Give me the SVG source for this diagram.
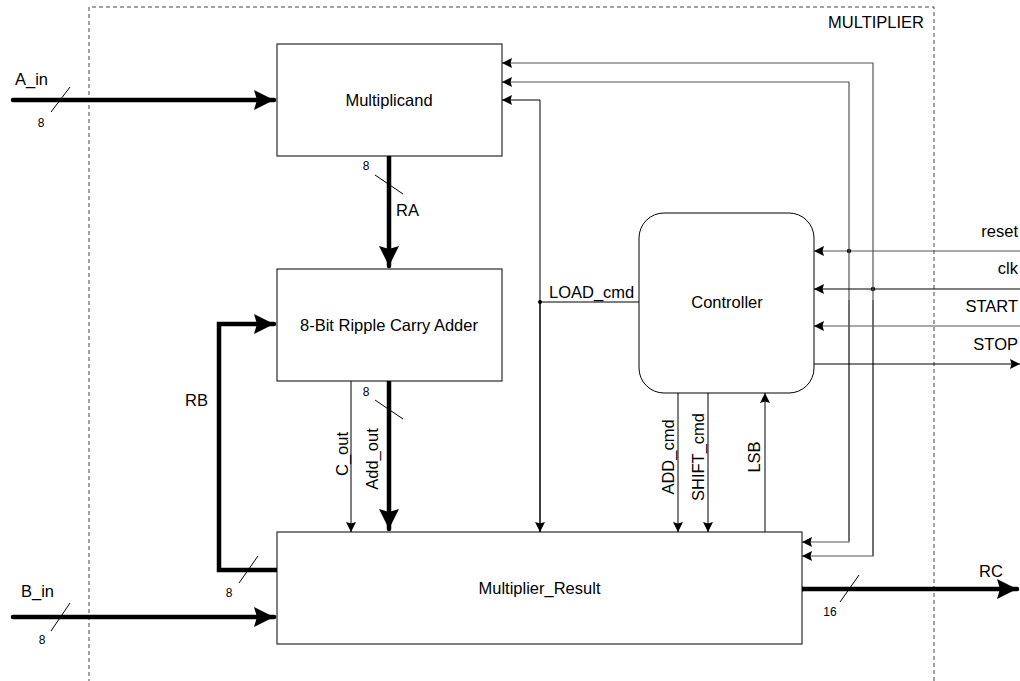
<svg xmlns="http://www.w3.org/2000/svg" width="1020" height="681" viewBox="0 0 1020 681">
<style>
text{font-family:"Liberation Sans",Arial,sans-serif;fill:#000}
.lbl{font-size:16.5px}
.sm{font-size:12px}
.box{fill:#fff;stroke:#000;stroke-width:1}
.thin{fill:none;stroke:#000;stroke-width:1}
.gray{fill:none;stroke:#555;stroke-width:1.2}
.thick{fill:none;stroke:#000;stroke-width:4.5;stroke-linecap:round;stroke-linejoin:miter}
.slash{stroke:#000;stroke-width:1;fill:none}
</style>
<defs>
<marker id="big" markerUnits="userSpaceOnUse" markerWidth="22" markerHeight="22" refX="20" refY="10" orient="auto">
<path d="M0,0 L20,10 L0,20 L3,10 z" fill="#000"/>
</marker>
<marker id="sm" markerUnits="userSpaceOnUse" markerWidth="12" markerHeight="12" refX="10" refY="5" orient="auto">
<path d="M0,0 L10,5 L0,10 L1.5,5 z" fill="#000"/>
</marker>
</defs>
<rect width="1020" height="681" fill="#fff"/>
<g id="boundary">
<path d="M89,690 L89,7 L934,7 L934,690" fill="none" stroke="#444" stroke-width="1" stroke-dasharray="4,3"/>
<text class="lbl" x="924" y="28" text-anchor="end">MULTIPLIER</text>
</g>
<g id="connectors">
<!-- A_in -->
<line class="thick" x1="13" y1="100" x2="274" y2="100" marker-end="url(#big)"/>
<line class="slash" x1="51" y1="112" x2="70" y2="87"/>
<text class="sm" x="41" y="127" text-anchor="middle">8</text>
<text class="lbl" x="15" y="85">A_in</text>
<!-- RA -->
<line class="thick" x1="389" y1="156" x2="389" y2="266" marker-end="url(#big)"/>
<line class="slash" x1="375" y1="175" x2="403" y2="194"/>
<text class="sm" x="366" y="170" text-anchor="middle">8</text>
<text class="lbl" x="396" y="216">RA</text>
<!-- Add_out -->
<line class="thick" x1="389" y1="381" x2="389" y2="529" marker-end="url(#big)"/>
<line class="slash" x1="375" y1="400" x2="403" y2="419"/>
<text class="sm" x="366" y="396" text-anchor="middle">8</text>
<text class="lbl" transform="translate(378,459) rotate(-90)" text-anchor="middle">Add_out</text>
<!-- C_out -->
<line class="thin" x1="351" y1="381" x2="351" y2="532" marker-end="url(#sm)"/>
<text class="lbl" transform="translate(348,454) rotate(-90)" text-anchor="middle">C_out</text>
<!-- RB -->
<polyline class="thick" points="277,570 219,570 219,324 274,324" marker-end="url(#big)"/>
<line class="slash" x1="239" y1="583" x2="258" y2="556"/>
<text class="sm" x="229" y="597" text-anchor="middle">8</text>
<text class="lbl" x="185" y="406">RB</text>
<!-- B_in -->
<line class="thick" x1="13" y1="617" x2="274" y2="617" marker-end="url(#big)"/>
<line class="slash" x1="51" y1="631" x2="70" y2="603"/>
<text class="sm" x="42" y="644" text-anchor="middle">8</text>
<text class="lbl" x="21" y="597">B_in</text>
<!-- RC -->
<line class="thick" x1="802" y1="589" x2="1017" y2="589" marker-end="url(#big)"/>
<line class="slash" x1="840" y1="602" x2="859" y2="575"/>
<text class="sm" x="830" y="616" text-anchor="middle">16</text>
<text class="lbl" x="979" y="577">RC</text>
<!-- LOAD_cmd -->
<line class="thin" x1="639" y1="302" x2="540" y2="302"/>
<circle cx="540" cy="302" r="2" fill="#000"/>
<polyline class="thin" points="540,532 540,100 502,100" marker-end="url(#sm)"/>
<line class="thin" x1="540" y1="302" x2="540" y2="532" marker-end="url(#sm)"/>
<text class="lbl" x="549" y="298">LOAD_cmd</text>
<!-- ADD / SHIFT / LSB -->
<line class="thin" x1="678" y1="393" x2="678" y2="532" marker-end="url(#sm)"/>
<text class="lbl" transform="translate(674,457) rotate(-90)" text-anchor="middle">ADD_cmd</text>
<line class="thin" x1="708" y1="393" x2="708" y2="532" marker-end="url(#sm)"/>
<text class="lbl" transform="translate(704,457) rotate(-90)" text-anchor="middle">SHIFT_cmd</text>
<line class="thin" x1="765" y1="532" x2="765" y2="393" marker-end="url(#sm)"/>
<text class="lbl" transform="translate(760,457) rotate(-90)" text-anchor="middle">LSB</text>
<!-- reset -->
<line class="gray" x1="1020" y1="251" x2="814" y2="251" marker-end="url(#sm)"/>
<circle cx="849" cy="251" r="2.2" fill="#000"/>
<text class="lbl" x="1018" y="237" text-anchor="end">reset</text>
<polyline class="gray" points="849,541 849,82 502,82" marker-end="url(#sm)"/>
<polyline class="gray" points="849,300 849,542 802,542" marker-end="url(#sm)"/>
<!-- clk -->
<line class="thin" x1="1020" y1="289" x2="814" y2="289" marker-end="url(#sm)"/>
<circle cx="873" cy="289" r="2.2" fill="#000"/>
<text class="lbl" x="1018" y="274" text-anchor="end">clk</text>
<polyline class="gray" points="873,556 873,63 502,63" marker-end="url(#sm)"/>
<polyline class="gray" points="873,300 873,556 802,556" marker-end="url(#sm)"/>
<!-- START -->
<line class="gray" x1="1020" y1="326" x2="814" y2="326" marker-end="url(#sm)"/>
<text class="lbl" x="1018" y="312" text-anchor="end">START</text>
<!-- STOP -->
<line class="thin" x1="814" y1="364" x2="1020" y2="364" marker-end="url(#sm)"/>
<text class="lbl" x="1018" y="350" text-anchor="end">STOP</text>
<circle cx="802" cy="589" r="2.5" fill="#000"/>
</g>
<g id="multiplicand">
<rect class="box" x="277" y="44" width="225" height="112"/>
<text class="lbl" x="389" y="106" text-anchor="middle">Multiplicand</text>
</g>
<g id="adder">
<rect class="box" x="277" y="269" width="225" height="112"/>
<text class="lbl" x="389" y="331" text-anchor="middle">8-Bit Ripple Carry Adder</text>
</g>
<g id="controller">
<rect class="box" x="639" y="213" width="175" height="180" rx="25" ry="25"/>
<text class="lbl" x="727" y="308" text-anchor="middle">Controller</text>
</g>
<g id="result">
<rect class="box" x="277" y="532" width="525" height="112"/>
<text class="lbl" x="539.5" y="594" text-anchor="middle">Multiplier_Result</text>
</g>
</svg>
